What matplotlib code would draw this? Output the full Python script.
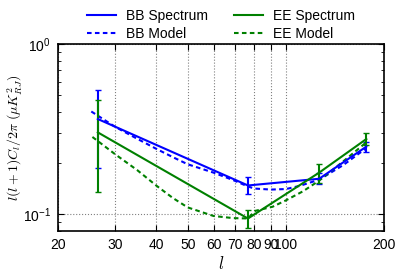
import numpy as np
import matplotlib
matplotlib.use("Agg")
import matplotlib.pyplot as plt
from matplotlib.lines import Line2D
from matplotlib.ticker import FixedLocator, FixedFormatter, NullFormatter

plt.rcParams['font.family'] = ['Liberation Sans', 'DejaVu Sans']
plt.rcParams['mathtext.fontset'] = 'cm'
plt.rcParams['font.size'] = 10

# bin centres
ell = [26.5, 76.5, 126.5, 176.5]

# measured spectra with errors
bb = [0.363, 0.148, 0.162, 0.250]
bb_err = [0.175, 0.017, 0.012, 0.018]
ee = [0.303, 0.0947, 0.176, 0.277]
ee_err = [0.168, 0.011, 0.022, 0.023]

# model curves
bb_model_ell = [25.3, 30, 35, 40, 45, 50, 60, 69, 76.5, 80, 90, 100, 110, 126.5, 150, 176.5]
bb_model = [0.402, 0.326, 0.278, 0.243, 0.217, 0.197, 0.176, 0.159, 0.146, 0.142, 0.140, 0.141, 0.147, 0.160, 0.195, 0.245]
ee_model_ell = [25.5, 30, 35, 40, 45, 50, 60, 69, 76.5, 80.5, 91, 100, 113, 126.5, 150, 176.5]
ee_model = [0.285, 0.225, 0.182, 0.148, 0.125, 0.110, 0.098, 0.0952, 0.0948, 0.105, 0.111, 0.121, 0.137, 0.158, 0.205, 0.265]

xticks = [20, 30, 40, 50, 60, 70, 80, 90, 100, 200]
dash = (2.2, 1.6)

fig = plt.figure(figsize=(3.99, 2.73), dpi=100)
ax = fig.add_axes([0.1454, 0.1538, 0.817, 0.685])

ax.errorbar(ell, bb, yerr=bb_err, color='b', lw=1.5, capsize=2.5)
ax.plot(bb_model_ell, bb_model, '--', color='b', lw=1.5, dashes=dash)
ax.errorbar(ell, ee, yerr=ee_err, color='g', lw=1.5, capsize=2.5)
ax.plot(ee_model_ell, ee_model, '--', color='g', lw=1.5, dashes=dash)

ax.set_xscale('log')
ax.set_yscale('log')
ax.set_xlim(20, 200)
ax.set_ylim(0.08, 1.0)

ax.xaxis.set_major_locator(FixedLocator(xticks))
ax.xaxis.set_major_formatter(FixedFormatter([str(t) for t in xticks]))
ax.xaxis.set_minor_locator(FixedLocator([]))
ax.yaxis.set_minor_formatter(NullFormatter())

ax.grid(True, which='major', color='0.5', linestyle=':', lw=0.8)
ax.tick_params(which='both', direction='in', top=True, right=True)
ax.tick_params(which='major', length=4, pad=5)
ax.tick_params(which='minor', length=2)
for s in ax.spines.values():
    s.set_linewidth(1.2)

ax.set_xlabel(r'$l$', fontsize=12, labelpad=2)
ax.set_ylabel(r'$l(l+1)C_l/2\pi\ (\mu K^2_{RJ})$', fontsize=10)
ax.yaxis.set_label_coords(-0.105, 0.5)

handles = [Line2D([], [], color='b', lw=1.5), Line2D([], [], color='b', lw=1.5, ls='--', dashes=dash),
           Line2D([], [], color='g', lw=1.5), Line2D([], [], color='g', lw=1.5, ls='--', dashes=dash)]
labels = ['BB Spectrum', 'BB Model', 'EE Spectrum', 'EE Model']
ax.legend(handles, labels, loc='lower center', bbox_to_anchor=(0.5, 0.985), ncol=2, frameon=False,
          fontsize=10, handlelength=2.1, handletextpad=0.7, columnspacing=1.9,
          labelspacing=0.3, borderaxespad=0.0)

fig.savefig('out.png', dpi=100)
